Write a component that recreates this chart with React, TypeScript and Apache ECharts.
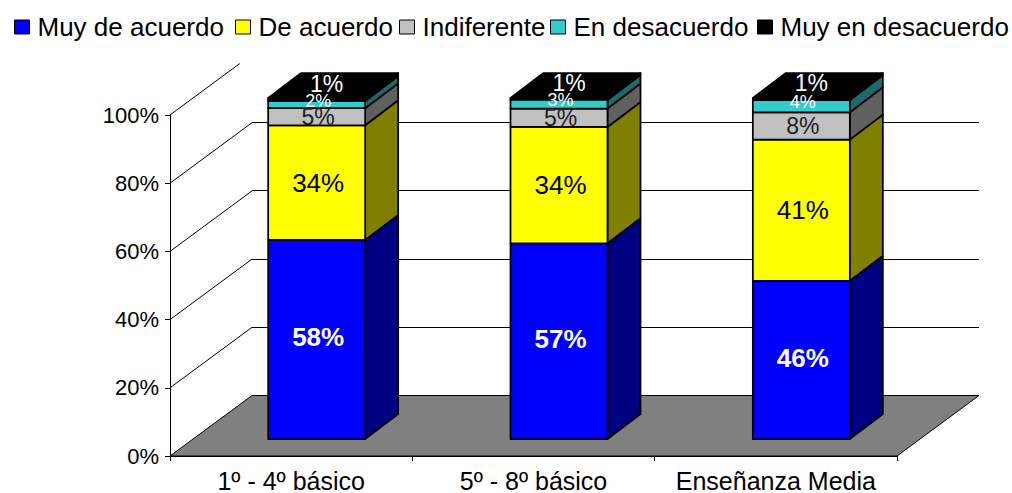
import React, { useEffect, useRef } from "react";
import * as echarts from "echarts";

const categories = ["1º - 4º básico", "5º - 8º básico", "Enseñanza Media"];
const seriesNames = ["Muy de acuerdo", "De acuerdo", "Indiferente", "En desacuerdo", "Muy en desacuerdo"];
const muyDeAcuerdo = [58.4, 57.4, 46.4];
const deAcuerdo = [33.6, 34.1, 41.4];
const indiferente = [5.0, 5.4, 8.0];
const enDesacuerdo = [2.1, 2.6, 3.6];
const muyEnDesacuerdo = [0.9, 0.5, 0.6];
const values = [muyDeAcuerdo, deAcuerdo, indiferente, enDesacuerdo, muyEnDesacuerdo];
const yTicks = [0, 20, 40, 60, 80, 100];

const frontColors = ["#0000FF", "#FFFF00", "#C0C0C0", "#33CCCC", "#000000"];
const sideColors = ["#000080", "#808000", "#606060", "#1A6B6B", "#000000"];
const labelColors = ["#FFFFFF", "#000000", "#222222", "#FFFFFF", "#FFFFFF"];
const labelSizes = [26, 26, 23, 18, 23];
const labelWeights = ["bold", "normal", "normal", "normal", "normal"];
const labelShiftY = [-2, 0, 0, -4, -16];
const labelShiftX = [1.5, 1.5, 1.5, 1.5, 10];
const legendLefts = [14, 235, 399, 550, 757];
const FONT = "'Liberation Sans', Arial, sans-serif";

const WALL_DX = 82;
const WALL_DY = -60.5;
const BAR_W = 97;
const BAR_DX = 25.5;
const BAR_DY = -17;
const DEPTH_X = 33;
const DEPTH_Y = -25;

function crisp(v: number) {
  return Math.round(v - 0.5) + 0.5;
}

function renderWalls(params: any, api: any) {
  const cs = params.coordSys;
  const x0 = cs.x;
  const x1 = cs.x + cs.width;
  const y0 = api.coord([0, 0])[1];
  const children: any[] = [
    {
      type: "polygon",
      shape: { points: [[x0, y0], [x0 + WALL_DX, y0 + WALL_DY], [x1 + WALL_DX, y0 + WALL_DY], [x1, y0]] },
      style: { fill: "#808080", stroke: "#000", lineWidth: 1 },
    },
  ];
  yTicks.forEach((t) => {
    if (t === 0) return;
    const y = api.coord([0, t])[1];
    const ratio = t === 100 ? 0.85 : 1;
    children.push({
      type: "line",
      shape: { x1: x0, y1: y, x2: x0 + WALL_DX * ratio, y2: y + WALL_DY * ratio },
      style: { stroke: "#000", lineWidth: 1 },
    });
    if (t !== 100) {
      const gy = crisp(y + WALL_DY);
      children.push({
        type: "line",
        shape: { x1: x0 + WALL_DX, y1: gy, x2: x1 + WALL_DX, y2: gy },
        style: { stroke: "#000", lineWidth: 1 },
      });
    }
  });
  return { type: "group", children };
}

function makeRenderBar(si: number) {
  return (_params: any, api: any) => {
    const cat = api.value(0);
    const start = api.coord([cat, api.value(1)]);
    const end = api.coord([cat, api.value(2)]);
    const left = start[0] + BAR_DX - BAR_W / 2;
    const right = left + BAR_W;
    const bot = start[1] + BAR_DY;
    const top = end[1] + BAR_DY;
    const stroke = { stroke: "#000", lineWidth: 1.75, lineJoin: "round" };
    const children: any[] = [
      {
        type: "polygon",
        shape: { points: [[right, bot], [right + DEPTH_X, bot + DEPTH_Y], [right + DEPTH_X, top + DEPTH_Y], [right, top]] },
        style: { fill: sideColors[si], ...stroke },
      },
      {
        type: "polygon",
        shape: { points: [[left, bot], [right, bot], [right, top], [left, top]] },
        style: { fill: frontColors[si], ...stroke },
      },
    ];
    if (si === values.length - 1) {
      children.push({
        type: "polygon",
        shape: { points: [[left, top], [right, top], [right + DEPTH_X, top + DEPTH_Y], [left + DEPTH_X, top + DEPTH_Y]] },
        style: { fill: frontColors[si], ...stroke },
      });
    }
    return { type: "group", children };
  };
}

function makeRenderLabel(si: number) {
  return (_params: any, api: any) => {
    const cat = api.value(0);
    const start = api.coord([cat, api.value(1)]);
    const end = api.coord([cat, api.value(2)]);
    const pct = Math.max(1, Math.round(api.value(2) - api.value(1)));
    return {
      type: "text",
      style: {
        text: pct + "%",
        x: start[0] + BAR_DX + labelShiftX[si],
        y: (start[1] + end[1]) / 2 + BAR_DY + labelShiftY[si],
        align: "center",
        verticalAlign: "middle",
        fill: labelColors[si],
        fontFamily: FONT,
        fontSize: labelSizes[si],
        fontWeight: labelWeights[si],
      },
    };
  };
}

function buildSeries() {
  const totals = categories.map(() => 0);
  const series: any[] = [
    {
      type: "custom",
      silent: true,
      z: 1,
      renderItem: renderWalls,
      data: [[0, 0, 0]],
      encode: { x: 0, y: 1 },
    },
  ];
  values.forEach((vals, si) => {
    const data = vals.map((v, c) => {
      const row = [c, totals[c], totals[c] + v];
      totals[c] += v;
      return row;
    });
    series.push({
      type: "custom",
      name: seriesNames[si],
      z: 3 + si,
      itemStyle: { color: frontColors[si], borderColor: "#000", borderWidth: 1 },
      renderItem: makeRenderBar(si),
      encode: { x: 0, y: [1, 2] },
      data,
    });
    series.push({
      type: "custom",
      silent: true,
      z: 20,
      renderItem: makeRenderLabel(si),
      encode: { x: 0, y: [1, 2] },
      data,
    });
  });
  return series;
}

export default function App() {
  const ref = useRef<HTMLDivElement>(null);
  useEffect(() => {
    const chart = echarts.init(ref.current!, undefined, { renderer: "svg" });
    chart.setOption({
      animation: false,
      backgroundColor: "#fff",
      grid: { left: 170, top: 115, width: 727, height: 341, containLabel: false },
      legend: seriesNames.map((n, i) => ({
        data: [n],
        left: legendLefts[i],
        top: 14,
        padding: 0,
        icon: "rect",
        itemWidth: 15,
        itemHeight: 14,
        selectedMode: false,
        itemStyle: { color: frontColors[i], borderColor: "#000", borderWidth: 1 },
        textStyle: { fontFamily: FONT, fontSize: 26, color: "#000", padding: [0, 0, 0, 3] },
      })),
      xAxis: {
        type: "category",
        data: categories,
        z: 5,
        axisLine: { lineStyle: { color: "#000", width: 1 } },
        axisTick: { show: true, length: 5, lineStyle: { color: "#000" } },
        axisLabel: { interval: 0, fontFamily: FONT, fontSize: 25, color: "#000", margin: 12 },
        splitLine: { show: false },
      },
      yAxis: {
        type: "value",
        min: 0,
        max: 100,
        interval: 20,
        z: 5,
        axisLine: { show: true, lineStyle: { color: "#000", width: 1 } },
        axisTick: { show: true, length: 5, lineStyle: { color: "#000" } },
        axisLabel: { formatter: "{value}%", fontFamily: FONT, fontSize: 22, color: "#000", margin: 11 },
        splitLine: { show: false },
      },
      series: buildSeries(),
    });
    return () => chart.dispose();
  }, []);
  return <div ref={ref} style={{ position: "fixed", left: 0, top: 0, width: 1012, height: 493 }} />;
}
